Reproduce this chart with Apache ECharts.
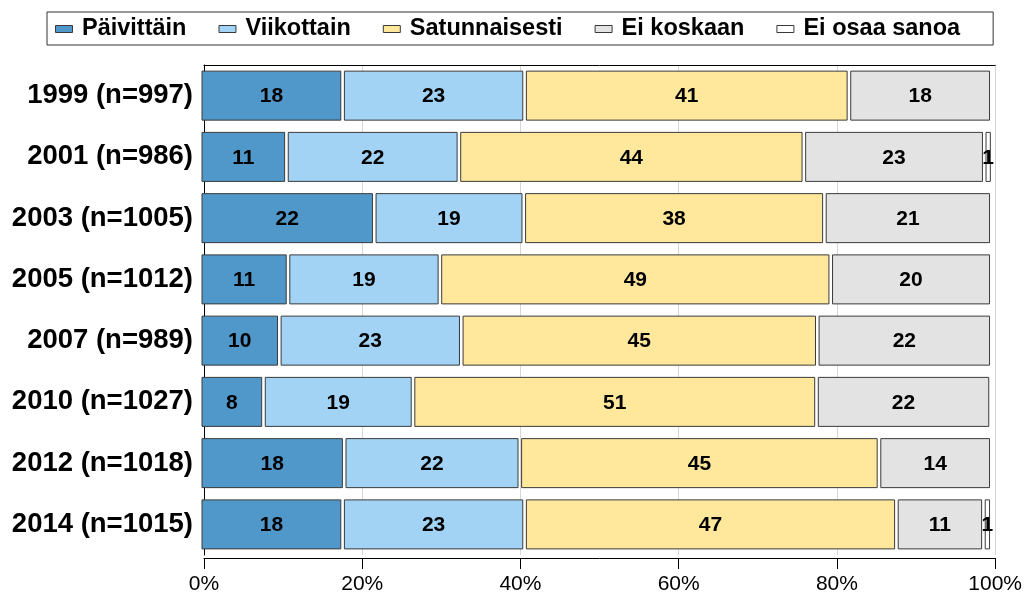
<!DOCTYPE html>
<html>
<head>
<meta charset="utf-8">
<title>Käyttö</title>
<script src="https://cdn.jsdelivr.net/npm/echarts@6/dist/echarts.min.js"></script>
<style>
	html, body { margin: 0; padding: 0; background: #fff; }
	#main { width: 1025px; height: 597px; }
</style>
</head>
<body>
<div id="main"></div>
<script type="text/javascript">
	// vuodet ja otoskoot
	var categories = ['1999 (n=997)', '2001 (n=986)', '2003 (n=1005)', '2005 (n=1012)',
		'2007 (n=989)', '2010 (n=1027)', '2012 (n=1018)', '2014 (n=1015)'];
	var seriesNames = ['Päivittäin', 'Viikottain', 'Satunnaisesti', 'Ei koskaan', 'Ei osaa sanoa'];
	var colors = ['#4F98C9', '#A2D3F5', '#FFE79B', '#E3E3E3', '#FFFFFF'];
	// prosentit
	var paivittain = [18.0, 10.9, 22.0, 11.1, 10.0, 8.0, 18.2, 18.0];
	var viikottain = [23.0, 21.8, 18.9, 19.2, 23.0, 18.9, 22.2, 23.0];
	var satunnaisesti = [41.0, 43.6, 38.0, 49.4, 45.0, 51.0, 45.4, 47.0];
	var eiKoskaan = [18.0, 22.8, 21.1, 20.3, 22.0, 22.0, 14.2, 11.0];
	var eiOsaaSanoa = [0, 1.0, 0, 0, 0, 0, 0, 1.0];
	var xTicks = [0, 20, 40, 60, 80, 100];

	var allValues = [paivittain, viikottain, satunnaisesti, eiKoskaan, eiOsaaSanoa];
	var font = '"Liberation Sans", Arial, sans-serif';

	// palkin piirto: väli segmenttien välissä kuten alkuperäisessä
	function renderItem(params, api) {
		var cat = api.value(2);
		var p0 = api.coord([api.value(0), cat]);
		var p1 = api.coord([api.value(1), cat]);
		var h = 49;
		var x = p0[0] - 2;
		var w = p1[0] - 5.6 - x;
		var color = colors[params.seriesIndex];
		return {
			type: 'group',
			children: [{
				type: 'rect',
				shape: { x: x, y: p0[1] - h / 2, width: w, height: h },
				style: { fill: color, stroke: '#3a3a3a', lineWidth: 1 }
			}, {
				type: 'text',
				x: x + w / 2,
				y: p0[1] + 1,
				style: {
					text: String(Math.round(api.value(3))),
					textAlign: 'center',
					textVerticalAlign: 'middle',
					align: 'center',
					verticalAlign: 'middle',
					fontSize: 21,
					fontWeight: 'bold',
					fontFamily: font,
					fill: '#000'
				}
			}]
		};
	}

	var series = [];
	var cum = categories.map(function() { return 0; });
	for (var s = 0; s < allValues.length; s++) {
		var data = [];
		for (var i = 0; i < categories.length; i++) {
			var v = allValues[s][i];
			if (v > 0) {
				data.push([cum[i], cum[i] + v, i, v]);
			}
			cum[i] += v;
		}
		series.push({
			name: seriesNames[s],
			type: 'custom',
			renderItem: renderItem,
			clip: false,
			itemStyle: { color: colors[s] },
			encode: { x: [0, 1], y: 2 },
			data: data
		});
	}

	var chart = echarts.init(document.getElementById('main'), null, { renderer: 'canvas' });
	var option = {
		animation: false,
		backgroundColor: '#fff',
		legend: {
			data: seriesNames,
			left: 47,
			top: 12,
			padding: [4, 33, 3, 8],
			itemGap: 32,
			itemWidth: 17,
			itemHeight: 7,
			icon: 'rect',
			borderColor: '#333',
			borderWidth: 1,
			itemStyle: { borderColor: '#3a3a3a', borderWidth: 1 },
			textStyle: {
				fontFamily: font,
				fontWeight: 'bold',
				fontSize: 23.5,
				color: '#000',
				lineHeight: 26,
				padding: [0, 0, 0, 4.5]
			}
		},
		grid: {
			left: 204,
			right: 27,
			top: 65,
			bottom: 42
		},
		xAxis: [{
			type: 'value',
			min: 0,
			max: 100,
			interval: 20,
			offset: 3,
			axisLine: { show: true, lineStyle: { color: '#000', width: 1 } },
			axisTick: { show: true, length: 11, lineStyle: { color: '#000' } },
			axisLabel: {
				formatter: '{value}%',
				fontFamily: font,
				fontSize: 21,
				color: '#000',
				margin: 16
			},
			splitLine: { show: true, lineStyle: { color: '#d6d6d6', width: 1 } }
		}, {
			// yläreuna
			type: 'value',
			position: 'top',
			min: 0,
			max: 100,
			interval: 20,
			axisLine: { show: true, lineStyle: { color: '#000', width: 1 } },
			axisTick: { show: false },
			axisLabel: { show: false },
			splitLine: { show: false }
		}],
		yAxis: {
			type: 'category',
			inverse: true,
			data: categories,
			axisLine: { show: true, lineStyle: { color: '#000', width: 1 } },
			axisTick: { show: false },
			axisLabel: {
				fontFamily: font,
				fontWeight: 'bold',
				fontSize: 27.5,
				color: '#000',
				margin: 11
			}
		},
		series: series
	};
	chart.setOption(option);
</script>
</body>
</html>
